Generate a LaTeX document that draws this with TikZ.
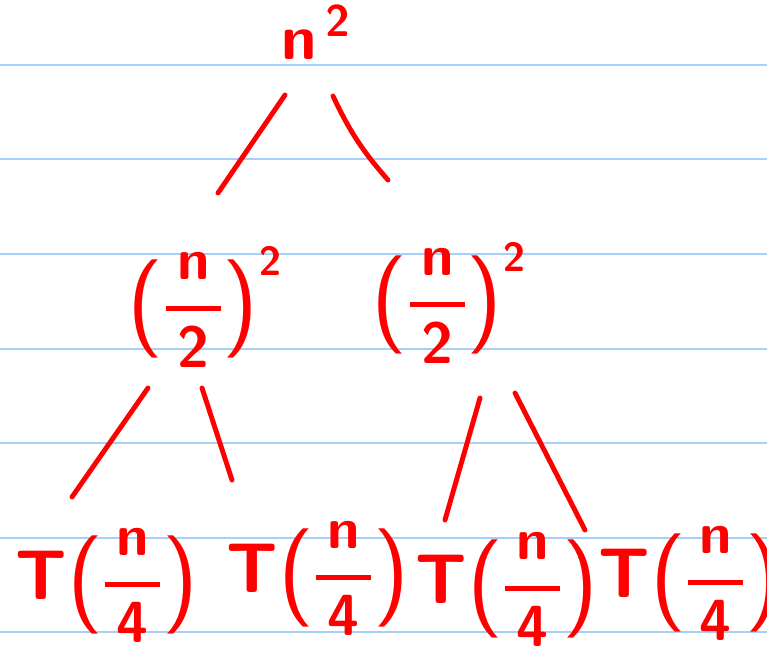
\RequirePackage{fix-cm}
\documentclass[tikz,border=0pt]{standalone}
\usepackage{amsmath}
\definecolor{penred}{HTML}{FF0000}
\definecolor{ruleblue}{HTML}{A8CFF7}
\newcommand{\bigT}{\mbox{\fontsize{40}{44}\selectfont\sffamily\bfseries T}}
\newcommand{\hpar}[1]{\vcenter{\hbox{\fontsize{56}{60}\selectfont\sffamily #1}}}
\newcommand{\hfrac}[2]{\genfrac{}{}{2.8pt}{0}{\,\mathsf{#1}\,}{\mathsf{#2}}}

\begin{document}
\begin{tikzpicture}[
  x=0.02cm, y=-0.02cm,
  rec/.style={text=penred, inner sep=0pt, font=\fontsize{33}{37}\selectfont\boldmath},
  br/.style={penred, line width=2.8pt, line cap=round},
  rl/.style={ruleblue, line width=0.9pt}
]
\fill[white] (0,0) rectangle (767,657);
\useasboundingbox (0,0) rectangle (767,657);
% ----- ruled paper -----
\foreach \y in {65,159,254,349,443,538,632}{\draw[rl] (0,\y) -- (767,\y);}
% ----- recursion tree -----
\node[rec, font=\fontsize{36}{40}\selectfont\boldmath] (top) at (316,33) {$\mathsf{n}^{\,\mathsf{2}}$};
\node[rec] (hl)  at (205,307) {$\hpar{(}\hfrac{n}{2}\hpar{)}^{\mathsf{2}}$};
\node[rec] (hr)  at (449,303) {$\hpar{(}\hfrac{n}{2}\hpar{)}^{\mathsf{2}}$};
\node[rec] (q1)  at (107,586) {$\bigT\hpar{(}\hfrac{n}{4}\hpar{)}$};
\node[rec] (q2)  at (318,579) {$\bigT\hpar{(}\hfrac{n}{4}\hpar{)}$};
\node[rec] (q3)  at (507,590) {$\bigT\hpar{(}\hfrac{n}{4}\hpar{)}$};
\node[rec] (q4)  at (690,584) {$\bigT\hpar{(}\hfrac{n}{4}\hpar{)}$};
% ----- branch ends -----
\coordinate (top-l) at (285,95);   \coordinate (hl-t) at (218,193);
\coordinate (top-r) at (333,96);   \coordinate (hr-t) at (388,180);
\coordinate (hl-l)  at (148,388);  \coordinate (q1-t) at (72,497);
\coordinate (hl-r)  at (202,388);  \coordinate (q2-t) at (232,480);
\coordinate (hr-l)  at (480,398);  \coordinate (q3-t) at (445,520);
\coordinate (hr-r)  at (515,393);  \coordinate (q4-t) at (585,530);
\foreach \a/\b in {top-l/hl-t, hl-l/q1-t, hl-r/q2-t, hr-l/q3-t, hr-r/q4-t}{\draw[br] (\a) -- (\b);}
\draw[br] (top-r) to[bend right=8] (hr-t);
\end{tikzpicture}
\end{document}
